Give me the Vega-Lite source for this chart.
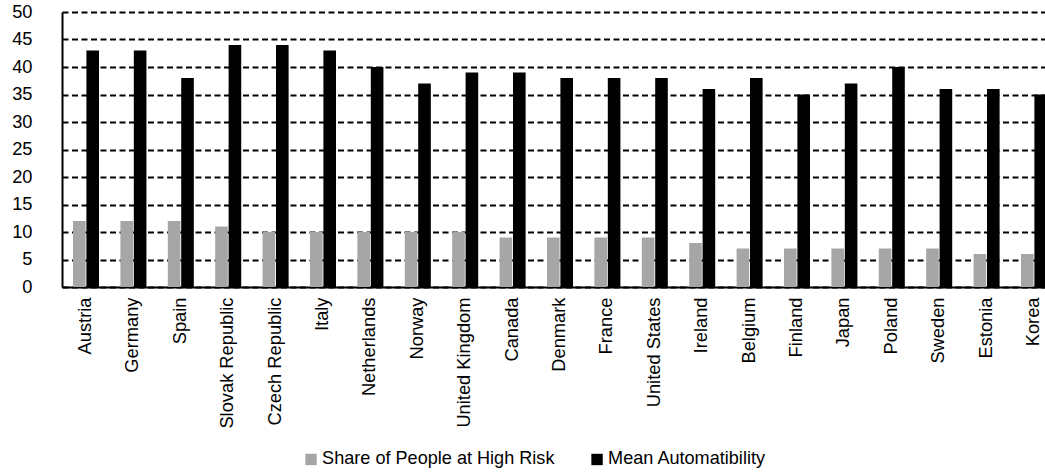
{
  "$schema": "https://vega.github.io/schema/vega-lite/v6.json",
  "autosize": "none",
  "width": 996,
  "height": 275,
  "padding": {"left": 62, "top": 12, "right": 0, "bottom": 185},
  "background": "white",
  "config": {
    "font": "Liberation Sans",
    "view": {"stroke": null},
    "axis": {"labelFont": "Liberation Sans", "labelColor": "#000", "labelFontSize": 18.3}
  },
  "data": {
    "values": [
      {"country": "Austria", "series": "Share of People at High Risk", "value": 12},
      {"country": "Germany", "series": "Share of People at High Risk", "value": 12},
      {"country": "Spain", "series": "Share of People at High Risk", "value": 12},
      {"country": "Slovak Republic", "series": "Share of People at High Risk", "value": 11},
      {"country": "Czech Republic", "series": "Share of People at High Risk", "value": 10},
      {"country": "Italy", "series": "Share of People at High Risk", "value": 10},
      {"country": "Netherlands", "series": "Share of People at High Risk", "value": 10},
      {"country": "Norway", "series": "Share of People at High Risk", "value": 10},
      {"country": "United Kingdom", "series": "Share of People at High Risk", "value": 10},
      {"country": "Canada", "series": "Share of People at High Risk", "value": 9},
      {"country": "Denmark", "series": "Share of People at High Risk", "value": 9},
      {"country": "France", "series": "Share of People at High Risk", "value": 9},
      {"country": "United States", "series": "Share of People at High Risk", "value": 9},
      {"country": "Ireland", "series": "Share of People at High Risk", "value": 8},
      {"country": "Belgium", "series": "Share of People at High Risk", "value": 7},
      {"country": "Finland", "series": "Share of People at High Risk", "value": 7},
      {"country": "Japan", "series": "Share of People at High Risk", "value": 7},
      {"country": "Poland", "series": "Share of People at High Risk", "value": 7},
      {"country": "Sweden", "series": "Share of People at High Risk", "value": 7},
      {"country": "Estonia", "series": "Share of People at High Risk", "value": 6},
      {"country": "Korea", "series": "Share of People at High Risk", "value": 6},
      {"country": "Austria", "series": "Mean Automatibility", "value": 43},
      {"country": "Germany", "series": "Mean Automatibility", "value": 43},
      {"country": "Spain", "series": "Mean Automatibility", "value": 38},
      {"country": "Slovak Republic", "series": "Mean Automatibility", "value": 44},
      {"country": "Czech Republic", "series": "Mean Automatibility", "value": 44},
      {"country": "Italy", "series": "Mean Automatibility", "value": 43},
      {"country": "Netherlands", "series": "Mean Automatibility", "value": 40},
      {"country": "Norway", "series": "Mean Automatibility", "value": 37},
      {"country": "United Kingdom", "series": "Mean Automatibility", "value": 39},
      {"country": "Canada", "series": "Mean Automatibility", "value": 39},
      {"country": "Denmark", "series": "Mean Automatibility", "value": 38},
      {"country": "France", "series": "Mean Automatibility", "value": 38},
      {"country": "United States", "series": "Mean Automatibility", "value": 38},
      {"country": "Ireland", "series": "Mean Automatibility", "value": 36},
      {"country": "Belgium", "series": "Mean Automatibility", "value": 38},
      {"country": "Finland", "series": "Mean Automatibility", "value": 35},
      {"country": "Japan", "series": "Mean Automatibility", "value": 37},
      {"country": "Poland", "series": "Mean Automatibility", "value": 40},
      {"country": "Sweden", "series": "Mean Automatibility", "value": 36},
      {"country": "Estonia", "series": "Mean Automatibility", "value": 36},
      {"country": "Korea", "series": "Mean Automatibility", "value": 35}
    ]
  },
  "mark": {"type": "bar"},
  "encoding": {
    "x": {
      "field": "country",
      "type": "nominal",
      "sort": null,
      "scale": {"paddingInner": 0.451, "paddingOuter": 0.232},
      "axis": {
        "title": null,
        "labelAngle": -90,
        "labelAlign": "right",
        "labelBaseline": "middle",
        "labelPadding": 10,
        "ticks": false,
        "domainColor": "#000",
        "domainWidth": 2,
        "labelLimit": 300
      }
    },
    "xOffset": {
      "field": "series",
      "type": "nominal",
      "sort": ["Share of People at High Risk", "Mean Automatibility"],
      "scale": {"paddingInner": 0.06, "paddingOuter": 0}
    },
    "y": {
      "field": "value",
      "type": "quantitative",
      "scale": {"domain": [0, 50], "nice": false},
      "axis": {
        "title": null,
        "values": [0, 5, 10, 15, 20, 25, 30, 35, 40, 45, 50],
        "ticks": false,
        "labelPadding": 30,
        "domainColor": "#000",
        "domainWidth": 2,
        "grid": true,
        "gridColor": "#000",
        "gridWidth": 1.8,
        "gridDash": [6, 3.5],
        "gridOpacity": 1
      }
    },
    "color": {
      "field": "series",
      "type": "nominal",
      "scale": {
        "domain": ["Share of People at High Risk", "Mean Automatibility"],
        "range": ["#a6a6a6", "#000000"]
      },
      "legend": {
        "title": null,
        "orient": "none",
        "direction": "horizontal",
        "legendX": 240,
        "legendY": 438,
        "symbolType": "square",
        "symbolSize": 130,
        "symbolStrokeWidth": 0,
        "labelFontSize": 18.1,
        "labelFont": "Liberation Sans",
        "labelColor": "#000",
        "labelOffset": 2,
        "columnPadding": 33,
        "labelLimit": 400
      }
    }
  }
}
